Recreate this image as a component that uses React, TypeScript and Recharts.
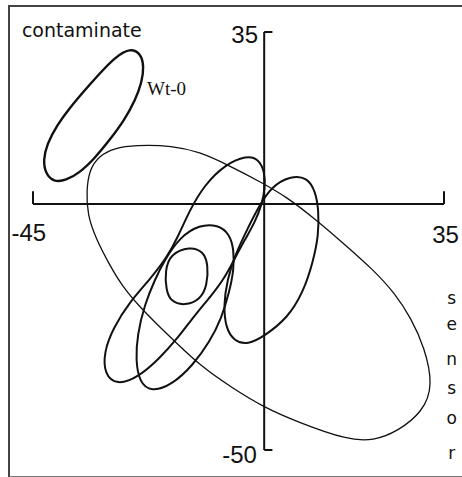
import { ComposedChart, Line, XAxis, YAxis, ReferenceLine, ReferenceDot } from 'recharts'

// outlines, [contaminate, sensor] pairs
const wt0 = [
  [-26.1, 31.8], [-24.0, 30.6], [-23.4, 28.0], [-23.8, 24.8], [-25.1, 21.1],
  [-27.2, 17.1], [-30.1, 13.0], [-33.0, 9.3], [-35.9, 6.4], [-38.6, 4.8],
  [-41.0, 4.5], [-42.6, 6.3], [-43.0, 8.9], [-42.3, 12.2], [-40.3, 16.1],
  [-37.9, 19.5], [-34.9, 23.2], [-32.0, 26.6], [-29.1, 29.8],
]

const broad = [
  [-34.4, -2.2], [-34.6, 2.8], [-34.0, 7.0], [-32.2, 9.8], [-29.1, 11.4],
  [-25.2, 12.0], [-17.8, 11.9], [-12.6, 10.6], [-7.3, 8.1], [-0.3, 4.3],
  [4.4, 1.4], [9.4, -2.6], [14.7, -7.3], [21.3, -13.4], [25.4, -18.1],
  [28.6, -23.2], [31.2, -29.1], [32.9, -36.8], [30.9, -42.2], [26.0, -46.2],
  [21.3, -48.1], [16.3, -48.0], [6.5, -44.3], [-0.1, -41.3], [-6.5, -37.2],
  [-12.6, -32.7], [-17.0, -28.3], [-20.9, -24.4], [-24.2, -20.9], [-27.5, -16.9],
  [-30.2, -12.2], [-32.8, -6.9],
]

const longTilt = [
  [-3.4, 9.9], [-1.1, 9.2], [0.1, 6.6], [0.2, 3.3], [-0.5, -0.2],
  [-1.8, -3.7], [-3.8, -7.3], [-5.7, -11.0], [-7.7, -15.0], [-10.2, -18.5],
  [-13.5, -22.6], [-16.8, -27.2], [-20.3, -31.3], [-24.6, -35.3], [-28.7, -36.8],
  [-31.1, -34.6], [-31.2, -30.1], [-29.4, -25.2], [-26.2, -19.9], [-22.3, -15.4],
  [-18.8, -10.6], [-16.8, -6.7], [-14.5, -1.2], [-11.6, 3.9], [-7.7, 8.0],
]

const middle = [
  [-12.6, -4.2], [-9.0, -4.2], [-6.7, -6.1], [-5.9, -9.3], [-5.9, -13.4],
  [-6.8, -17.9], [-8.3, -23.2], [-10.6, -28.0], [-13.9, -32.8], [-18.0, -36.8],
  [-22.0, -38.2], [-24.3, -36.2], [-25.0, -31.7], [-24.7, -26.6], [-23.3, -20.5],
  [-21.3, -15.4], [-19.4, -11.4], [-16.4, -6.7],
]

const small = [
  [-14.5, -8.6], [-11.8, -9.6], [-10.9, -12.4], [-11.1, -16.5], [-12.4, -19.4],
  [-15.5, -20.7], [-18.2, -19.8], [-19.1, -17.5], [-19.3, -13.4], [-18.2, -10.1],
]

const right = [
  [5.0, 5.7], [8.4, 5.5], [10.0, 2.5], [10.6, -1.2], [10.6, -6.3],
  [9.5, -11.8], [7.6, -17.9], [4.6, -23.1], [0.1, -26.8], [-3.2, -28.6],
  [-5.8, -27.9], [-7.5, -25.2], [-7.9, -20.5], [-7.2, -15.4], [-5.7, -10.4],
  [-3.2, -4.9], [-0.9, -0.2], [1.5, 3.6],
]

const xDomain = [-45, 35]
const yDomain = [-50, 35]
const sensorLetters = ['s', 'e', 'n', 's', 'o', 'r']

const toPts = (arr: number[][]) => arr.map(([x, y]) => ({ x, y }))

const ink = '#111'
const tickFont = '"Liberation Sans Narrow", "Liberation Sans", sans-serif'
const pixelFont = '"DejaVu Sans", sans-serif'

function textLabel(text: string, size: number, family: string) {
  return (props: any) => {
    const vb = props.viewBox
    return (
      <text
        x={vb.x + vb.width / 2}
        y={vb.y + vb.height / 2}
        textAnchor="middle"
        fontSize={size}
        fontFamily={family}
        fill={ink}
      >
        {text}
      </text>
    )
  }
}

// text anchors (baseline centre) in data units
const labels = [
  { x: -3.8, y: 32.7, text: '35', size: 24, font: tickFont },
  { x: -45.8, y: -7.5, text: '-45', size: 24, font: tickFont },
  { x: 35.3, y: -7.9, text: '35', size: 24, font: tickFont },
  { x: -4.8, y: -52.6, text: '-50', size: 24, font: tickFont },
  { x: -35.5, y: 33.9, text: 'contaminate', size: 19, font: pixelFont },
  { x: -19.0, y: 22.2, text: 'Wt-0', size: 19, font: '"Liberation Serif", serif' },
]
const sensorY = [-20.3, -25.6, -32.7, -38.6, -44.7, -51.8]

const outlines = [
  { data: wt0, width: 2.4 },
  { data: broad, width: 1.3 },
  { data: longTilt, width: 2 },
  { data: middle, width: 2 },
  { data: small, width: 2 },
  { data: right, width: 2 },
]

export default function App() {
  return (
    <div style={{ position: 'absolute', left: 0, top: 0, width: 462, height: 477, background: '#fff' }}>
      <div
        style={{
          position: 'absolute',
          left: 8,
          top: 5,
          width: 460,
          height: 469,
          borderLeft: '2px solid #444',
          borderTop: '2px solid #444',
          borderBottom: '2px solid #777',
        }}
      />
      <div style={{ position: 'absolute', left: 0, top: 0 }}>
        <ComposedChart width={462} height={477} margin={{ top: 32, right: 18, bottom: 27, left: 33 }}>
          <XAxis type="number" dataKey="x" domain={xDomain} allowDataOverflow hide />
          <YAxis type="number" dataKey="y" domain={yDomain} allowDataOverflow hide />
          <ReferenceLine y={0} stroke={ink} strokeWidth={2} />
          <ReferenceLine x={0} stroke={ink} strokeWidth={2} />
          <ReferenceLine segment={[{ x: -45, y: 0 }, { x: -45, y: 2.6 }]} stroke={ink} strokeWidth={2} />
          <ReferenceLine segment={[{ x: 35, y: 0 }, { x: 35, y: 2.6 }]} stroke={ink} strokeWidth={2} />
          <ReferenceLine segment={[{ x: 0, y: 35 }, { x: 1.6, y: 35 }]} stroke={ink} strokeWidth={2} />
          <ReferenceLine segment={[{ x: 0, y: -50 }, { x: 1.6, y: -50 }]} stroke={ink} strokeWidth={2} />
          {outlines.map((o, i) => (
            <Line
              key={i}
              data={toPts(o.data)}
              dataKey="y"
              type="basisClosed"
              stroke={ink}
              strokeWidth={o.width}
              dot={false}
              activeDot={false}
              isAnimationActive={false}
            />
          ))}
          {labels.map((l, i) => (
            <ReferenceDot
              key={'l' + i}
              x={l.x}
              y={l.y}
              r={1}
              fill="none"
              stroke="none"
              ifOverflow="visible"
              label={textLabel(l.text, l.size, l.font)}
            />
          ))}
          {sensorLetters.map((s, i) => (
            <ReferenceDot
              key={'s' + i}
              x={36.5}
              y={sensorY[i]}
              r={1}
              fill="none"
              stroke="none"
              ifOverflow="visible"
              label={textLabel(s, 17, pixelFont)}
            />
          ))}
        </ComposedChart>
      </div>
    </div>
  )
}
